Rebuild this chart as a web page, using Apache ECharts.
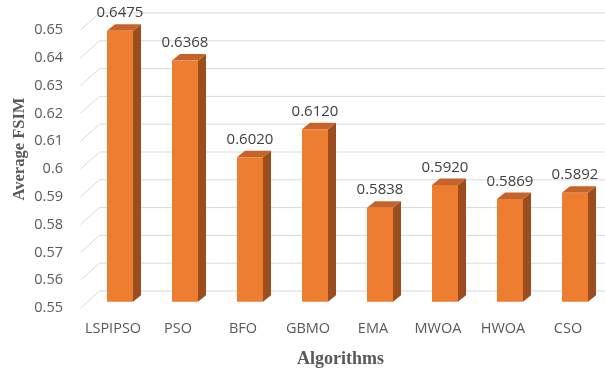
<!DOCTYPE html>
<html>
<head>
<meta charset="utf-8">
<script src="https://cdn.jsdelivr.net/npm/echarts@6/dist/echarts.min.js"></script>
<style>
  html, body { margin: 0; padding: 0; background: #ffffff; }
  #chart { width: 605px; height: 373px; }
</style>
</head>
<body>
<div id="chart"></div>
<script>
// Average FSIM per algorithm
const categories = ['LSPIPSO', 'PSO', 'BFO', 'GBMO', 'EMA', 'MWOA', 'HWOA', 'CSO'];
const fsimValues = [0.6475, 0.6368, 0.6020, 0.6120, 0.5838, 0.5920, 0.5869, 0.5892];
const yTicks = [0.55, 0.56, 0.57, 0.58, 0.59, 0.60, 0.61, 0.62, 0.63, 0.64, 0.65];

const Y_MIN = yTicks[0];
const Y_MAX = yTicks[yTicks.length - 1];
const Y_STEP = 0.01;

// pseudo-3D geometry (pixels)
const WALL_DEPTH = [19, -17];   // floor front edge -> back wall
const BAR_OFFSET = [7, -6.3];   // floor front edge -> bar front face
const BAR_DEPTH = [8, -6.5];    // bar front face -> bar back face
const BAR_RATIO = 0.4;

const COLORS = { front: '#ED7D31', top: '#C4642A', side: '#9C4D1D', grid: '#D9D9D9' };

const chart = echarts.init(document.getElementById('chart'), null, { renderer: 'canvas' });

function renderGridLine(params, api) {
  const cs = params.coordSys;
  const y = api.coord([0, api.value(1)])[1];
  const x0 = cs.x;
  const pts = [
    [x0, y],
    [x0 + WALL_DEPTH[0], y + WALL_DEPTH[1]],
    [cs.x + cs.width + 80, y + WALL_DEPTH[1]]
  ];
  return {
    type: 'polyline',
    shape: { points: pts },
    style: { stroke: COLORS.grid, lineWidth: 1, fill: null },
    silent: true
  };
}

function renderBar(params, api) {
  const idx = api.value(0);
  const val = api.value(1);
  const base = api.coord([idx, Y_MIN]);
  const topPt = api.coord([idx, val]);
  const catW = api.size([1, 0])[0];
  const w = catW * BAR_RATIO;
  const cx = base[0] + BAR_OFFSET[0];
  const x0 = cx - w / 2, x1 = cx + w / 2;
  const yb = base[1] + BAR_OFFSET[1];
  const yt = topPt[1] + BAR_OFFSET[1];
  const dx = BAR_DEPTH[0], dy = BAR_DEPTH[1];
  return {
    type: 'group',
    children: [
      {
        type: 'polygon',
        shape: { points: [[x1, yt], [x1 + dx, yt + dy], [x1 + dx, yb + dy], [x1, yb]] },
        style: { fill: COLORS.side }
      },
      {
        type: 'polygon',
        shape: { points: [[x0, yt], [x1, yt], [x1 + dx, yt + dy], [x0 + dx, yt + dy]] },
        style: { fill: COLORS.top }
      },
      {
        type: 'rect',
        shape: { x: x0, y: yt, width: w, height: yb - yt },
        style: { fill: COLORS.front }
      },
      {
        type: 'text',
        style: {
          text: val.toFixed(4),
          x: cx,
          y: yt - 17.6,
          align: 'center',
          verticalAlign: 'middle',
          fontFamily: 'Open Sans',
          fontSize: 15,
          fill: '#404040'
        }
      }
    ]
  };
}

chart.setOption({
  animation: false,
  backgroundColor: '#ffffff',
  grid: { left: 80.5, right: 4.5, top: 30, bottom: 62, containLabel: false },
  xAxis: {
    type: 'category',
    data: categories,
    axisLine: { show: false },
    axisTick: { show: false },
    splitLine: { show: false },
    axisLabel: { interval: 0, color: '#595959', fontFamily: 'Open Sans', fontSize: 14.5, margin: 13 },
    name: 'Algorithms',
    nameLocation: 'middle',
    nameGap: 42,
    nameTextStyle: { fontFamily: 'Liberation Serif', fontWeight: 'bold', fontSize: 18, color: '#595959' }
  },
  yAxis: {
    type: 'value',
    min: Y_MIN,
    max: Y_MAX,
    interval: Y_STEP,
    axisLine: { show: false },
    axisTick: { show: false },
    splitLine: { show: false },
    axisLabel: {
      color: '#595959',
      fontFamily: 'Open Sans',
      fontSize: 14.5,
      margin: 17.5,
      formatter: v => String(parseFloat(v.toFixed(2)))
    }
  },
  graphic: [{
    type: 'text',
    x: 20,
    y: 149,
    rotation: Math.PI / 2,
    style: {
      text: 'Average FSIM',
      align: 'center',
      verticalAlign: 'middle',
      fontFamily: 'Liberation Serif',
      fontWeight: 'bold',
      fontSize: 16.5,
      fill: '#595959'
    }
  }],
  series: [
    {
      type: 'custom',
      z: 1,
      renderItem: renderGridLine,
      data: yTicks.map(v => [0, v]),
      encode: { x: 0, y: 1 },
      silent: true
    },
    {
      type: 'custom',
      z: 2,
      renderItem: renderBar,
      data: fsimValues.map((v, i) => [i, v]),
      encode: { x: 0, y: 1 }
    }
  ]
});
</script>
</body>
</html>
